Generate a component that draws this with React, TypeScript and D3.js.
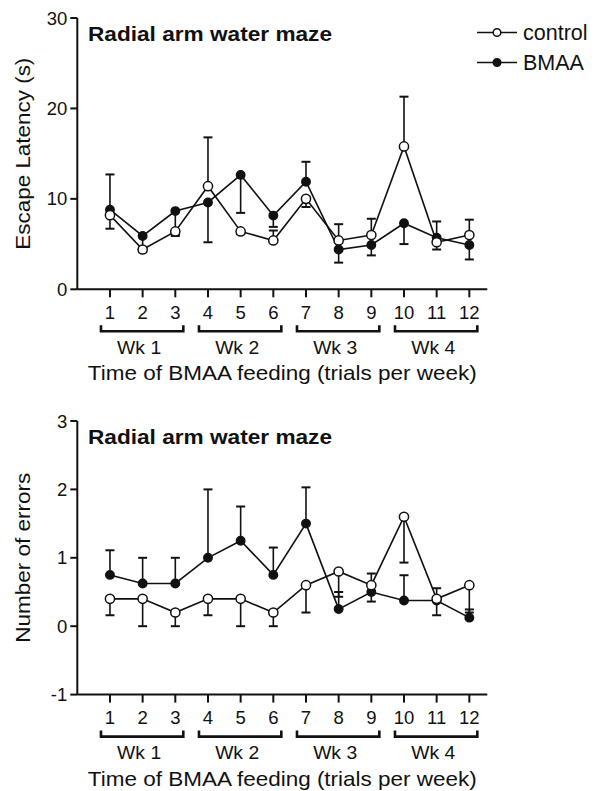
import React from "react";
import * as d3 from "d3";

const trials = [1, 2, 3, 4, 5, 6, 7, 8, 9, 10, 11, 12];
const weeks = ["Wk 1", "Wk 2", "Wk 3", "Wk 4"];
const weekTrials = [[1, 3], [4, 6], [7, 9], [10, 12]];

// Escape latency (s)
const ctrlLatency = [8.2, 4.4, 6.4, 11.4, 6.4, 5.4, 10.0, 5.4, 6.0, 15.8, 5.2, 6.0];
const ctrlLatencyErr = [1.5, 0.3, 0.3, 5.4, 0.3, 1.1, 0.9, 1.8, 1.8, 5.5, 0.8, 1.7];
const ctrlLatencyDir = [-1, -1, -1, 1, -1, 1, -1, 1, 1, 1, -1, 1];
const bmaaLatency = [8.8, 5.9, 8.65, 9.6, 12.65, 8.15, 11.9, 4.4, 4.9, 7.3, 5.7, 4.9];
const bmaaLatencyErr = [3.9, 1.5, 2.75, 4.4, 4.2, 1.25, 2.2, 1.45, 1.15, 2.3, 1.8, 1.6];
const bmaaLatencyDir = [1, -1, -1, -1, -1, -1, 1, -1, -1, -1, 1, -1];

// Number of errors
const ctrlErrors = [0.4, 0.4, 0.2, 0.4, 0.4, 0.2, 0.6, 0.8, 0.6, 1.6, 0.4, 0.6];
const ctrlErrorsErr = [0.24, 0.4, 0.2, 0.24, 0.4, 0.2, 0.4, 0.37, 0.17, 0.67, 0.24, 0.4];
const ctrlErrorsDir = [-1, -1, -1, -1, -1, -1, -1, -1, 1, -1, -1, -1];
const bmaaErrors = [0.75, 0.625, 0.625, 1.0, 1.25, 0.75, 1.5, 0.25, 0.5, 0.375, 0.375, 0.125];
const bmaaErrorsErr = [0.36, 0.375, 0.375, 1.0, 0.5, 0.4, 0.53, 0.25, 0.14, 0.37, 0.18, 0.12];
const bmaaErrorsDir = [1, 1, 1, 1, 1, 1, 1, 1, -1, 1, 1, 1];

const latencyTicks = [0, 10, 20, 30];
const errorTicks = [-1, 0, 1, 2, 3];

const FONT = "'Liberation Sans', Arial, Helvetica, sans-serif";

type Series = { values: number[]; err: number[]; dir: number[]; filled: boolean };

function Panel(props: {
  yDomain: [number, number];
  yRange: [number, number];
  ticks: number[];
  yTitle: string;
  yTitleLen: number;
  series: Series[];
  legend: boolean;
}) {
  const { yDomain, yRange, ticks, yTitle, yTitleLen, series, legend } = props;
  const x = d3.scaleLinear().domain([0, 12.55]).range([77.3, 487.3]);
  const y = d3.scaleLinear().domain(yDomain).range(yRange);
  const axisY = yRange[0];
  const topY = yRange[1];
  const line = d3
    .line<number>()
    .x((_, i) => x(trials[i]))
    .y((v) => y(v));

  return (
    <g>
      <text
        x={88}
        y={topY + 22.5}
        fontFamily={FONT}
        fontWeight="bold"
        fontSize={21}
        textLength={244}
        lengthAdjust="spacingAndGlyphs"
        fill="#111"
      >
        Radial arm water maze
      </text>
      <line x1={x(0)} x2={x(0)} y1={topY} y2={axisY} stroke="#111" strokeWidth={2} />
      {ticks.map((t) => (
        <g key={t}>
          <line x1={x(0) - 7} x2={x(0)} y1={y(t)} y2={y(t)} stroke="#111" strokeWidth={2} />
          <text
            x={x(0) - 10}
            y={y(t) + 6.5}
            textAnchor="end"
            fontFamily={FONT}
            fontSize={18.5}
            fill="#111"
          >
            {t}
          </text>
        </g>
      ))}
      <text
        transform={`translate(30,${(topY + axisY) / 2}) rotate(-90)`}
        textAnchor="middle"
        fontFamily={FONT}
        fontSize={21}
        textLength={yTitleLen}
        lengthAdjust="spacingAndGlyphs"
        fill="#111"
      >
        {yTitle}
      </text>
      <line x1={x(0)} x2={x(12.55)} y1={axisY} y2={axisY} stroke="#111" strokeWidth={2} />
      {trials.map((t) => (
        <g key={t}>
          <line x1={x(t)} x2={x(t)} y1={axisY} y2={axisY + 8} stroke="#111" strokeWidth={2} />
          <text
            x={x(t)}
            y={axisY + 29.5}
            textAnchor="middle"
            fontFamily={FONT}
            fontSize={18.5}
            fill="#111"
          >
            {t}
          </text>
        </g>
      ))}
      {weeks.map((w, i) => {
        const x1 = x(weekTrials[i][0]) - 9;
        const x2 = x(weekTrials[i][1]) + 8;
        const by = axisY + 42;
        return (
          <g key={w}>
            <path
              d={`M${x1},${by - 6}V${by}H${x2}V${by - 6}`}
              fill="none"
              stroke="#111"
              strokeWidth={2.6}
            />
            <text
              x={(x1 + x2) / 2 - 3}
              y={axisY + 64.5}
              textAnchor="middle"
              fontFamily={FONT}
              fontSize={19}
              textLength={44}
              lengthAdjust="spacingAndGlyphs"
              fill="#111"
            >
              {w}
            </text>
          </g>
        );
      })}
      <text
        x={(x(0) + x(12.55)) / 2}
        y={axisY + 91}
        textAnchor="middle"
        fontFamily={FONT}
        fontSize={21}
        textLength={389}
        lengthAdjust="spacingAndGlyphs"
        fill="#111"
      >
        Time of BMAA feeding (trials per week)
      </text>
      {series.map((s, si) => (
        <path key={"l" + si} d={line(s.values) || ""} fill="none" stroke="#111" strokeWidth={1.6} />
      ))}
      {series.map((s, si) =>
        s.values.map((v, i) => {
          const end = y(v + s.dir[i] * s.err[i]);
          const cx = x(trials[i]);
          return (
            <g key={"e" + si + "-" + i} stroke="#111" strokeWidth={1.6}>
              <line x1={cx} x2={cx} y1={y(v)} y2={end} />
              <line x1={cx - 4.5} x2={cx + 4.5} y1={end} y2={end} strokeWidth={2} />
            </g>
          );
        })
      )}
      {[...series]
        .sort((a, b) => (a.filled === b.filled ? 0 : a.filled ? -1 : 1))
        .map((s, si) =>
          s.values.map((v, i) => (
            <circle
              key={"m" + si + "-" + i}
              cx={x(trials[i])}
              cy={y(v)}
              r={s.filled ? 4.2 : 4.6}
              fill={s.filled ? "#111" : "#fff"}
              stroke="#111"
              strokeWidth={1.5}
            />
          ))
        )}
      {legend && (
        <g>
          <line x1={477} x2={517} y1={32.5} y2={32.5} stroke="#111" strokeWidth={1.6} />
          <circle cx={497} cy={32.5} r={3.8} fill="#fff" stroke="#111" strokeWidth={1.5} />
          <text x={523} y={39.5} fontFamily={FONT} fontSize={21.5} fill="#111">
            control
          </text>
          <line x1={477} x2={517} y1={62.5} y2={62.5} stroke="#111" strokeWidth={1.6} />
          <circle cx={497} cy={62.5} r={3.8} fill="#111" stroke="#111" strokeWidth={1.5} />
          <text x={523} y={70} fontFamily={FONT} fontSize={21.5} fill="#111">
            BMAA
          </text>
        </g>
      )}
    </g>
  );
}

export default function App() {
  return (
    <svg
      width={599}
      height={791}
      style={{ position: "absolute", left: 0, top: 0, background: "#fff" }}
    >
      <rect width={599} height={791} fill="#fff" />
      <Panel
        yDomain={[0, 30]}
        yRange={[289.3, 18]}
        ticks={latencyTicks}
        yTitle="Escape Latency (s)"
        yTitleLen={192}
        legend={true}
        series={[
          { values: ctrlLatency, err: ctrlLatencyErr, dir: ctrlLatencyDir, filled: false },
          { values: bmaaLatency, err: bmaaLatencyErr, dir: bmaaLatencyDir, filled: true },
        ]}
      />
      <Panel
        yDomain={[-1, 3]}
        yRange={[694.6, 421]}
        ticks={errorTicks}
        yTitle="Number of errors"
        yTitleLen={170}
        legend={false}
        series={[
          { values: ctrlErrors, err: ctrlErrorsErr, dir: ctrlErrorsDir, filled: false },
          { values: bmaaErrors, err: bmaaErrorsErr, dir: bmaaErrorsDir, filled: true },
        ]}
      />
    </svg>
  );
}
